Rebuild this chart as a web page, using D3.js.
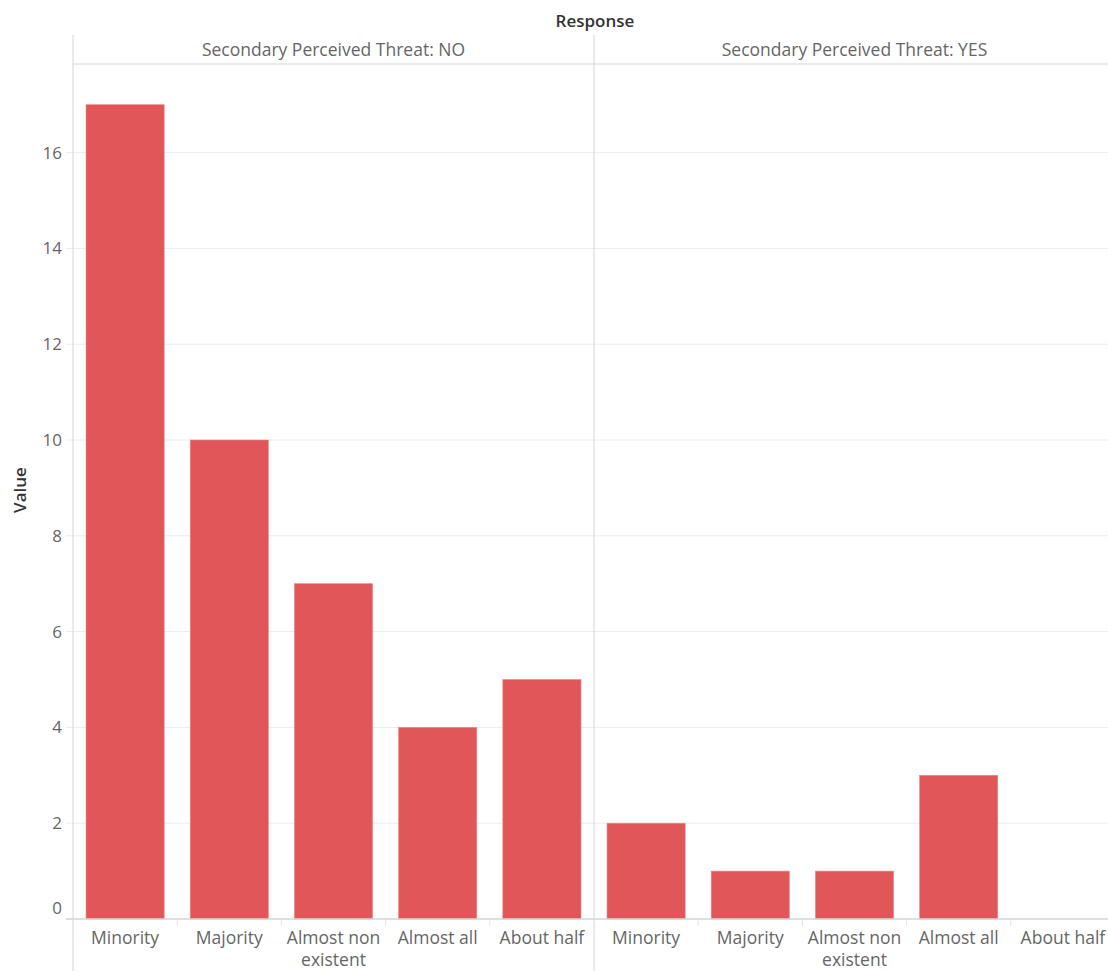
<!DOCTYPE html>
<html><head><meta charset="utf-8">
<script src="https://cdn.jsdelivr.net/npm/d3@7"></script>
<style>body{margin:0;background:#fff;} text{font-family:"Open Sans",Lato,sans-serif;}</style>
</head><body>
<svg id="c" width="1108" height="971"></svg>
<script>
const panels = ["Secondary Perceived Threat: NO", "Secondary Perceived Threat: YES"];
const categories = ["Minority", "Majority", "Almost non existent", "Almost all", "About half"];
const valuesNO = [17, 10, 7, 4, 5];
const valuesYES = [2, 1, 1, 3, 0];
const yTicks = [0, 2, 4, 6, 8, 10, 12, 14, 16];
const series = [valuesNO, valuesYES];

(function () {
const svg = d3.select("#c");
const pLeft = 73, pRight = 1115, pTop = 64, pBottom = 919, headTop = 35;
const y = d3.scaleLinear().domain([0, 17.85]).range([pBottom, pTop]);
const px = d3.scaleBand().domain(panels).range([pLeft, pRight]).paddingInner(0);
const gridC = "#ececec", lineC = "#d4d4d4", textC = "#666666";
const fs = 17, fsL = 17.5;

svg.append("g").selectAll("line").data(yTicks.filter(d => d > 0)).join("line")
  .attr("x1", pLeft).attr("x2", pRight).attr("y1", d => y(d)).attr("y2", d => y(d))
  .attr("stroke", gridC).attr("stroke-width", 1);

const ya = svg.append("g");
ya.selectAll("line").data(yTicks).join("line")
  .attr("x1", 66).attr("x2", pLeft).attr("y1", d => y(d)).attr("y2", d => y(d))
  .attr("stroke", gridC);
ya.selectAll("text").data(yTicks).join("text")
  .attr("x", 62).attr("y", d => d === 0 ? y(d) - 11 : y(d))
  .attr("dy", "0.35em").attr("text-anchor", "end")
  .attr("font-size", fs).attr("fill", textC).text(d => d);

panels.forEach((p, i) => {
  const x0 = px(p), w = px.bandwidth();
  const xs = d3.scaleBand().domain(categories).range([x0, x0 + w]).paddingInner(0.25).paddingOuter(0.125);
  const g = svg.append("g");
  g.selectAll("rect").data(categories.map((c, j) => ({c, v: series[i][j]}))).join("rect")
    .attr("x", d => xs(d.c)).attr("width", xs.bandwidth())
    .attr("y", d => y(d.v)).attr("height", d => pBottom - y(d.v))
    .attr("fill", "#E15759").attr("stroke", "#ea8587").attr("stroke-width", 0.6);
  const step = w / categories.length;
  g.selectAll("line.sep").data(d3.range(1, categories.length)).join("line")
    .attr("x1", k => x0 + k * step).attr("x2", k => x0 + k * step)
    .attr("y1", pBottom).attr("y2", pBottom + 7).attr("stroke", "#e6e6e6");
  categories.forEach(c => {
    const cx = xs(c) + xs.bandwidth() / 2;
    const t = g.append("text").attr("x", cx).attr("y", 944).attr("text-anchor", "middle")
      .attr("font-size", fsL).attr("fill", textC);
    if (c === "Almost non existent") {
      t.append("tspan").attr("x", cx).text("Almost non");
      t.append("tspan").attr("x", cx).attr("dy", 22).text("existent");
    } else t.text(c);
  });
  svg.append("text").attr("x", x0 + w / 2).attr("y", 50).attr("dy", "0.35em")
    .attr("text-anchor", "middle").attr("font-size", fsL).attr("fill", textC).text(p);
});

svg.append("line").attr("x1", pLeft).attr("x2", pRight).attr("y1", pTop).attr("y2", pTop).attr("stroke", lineC);
svg.append("line").attr("x1", pLeft).attr("x2", pLeft).attr("y1", headTop).attr("y2", 971).attr("stroke", lineC);
svg.append("line").attr("x1", px(panels[1])).attr("x2", px(panels[1])).attr("y1", headTop).attr("y2", 971).attr("stroke", lineC);
svg.append("line").attr("x1", 66).attr("x2", pRight).attr("y1", pBottom).attr("y2", pBottom).attr("stroke", lineC).attr("stroke-width", 1.5);

svg.append("text").attr("x", 595).attr("y", 21).attr("dy", "0.35em").attr("text-anchor", "middle")
  .attr("font-size", fs).attr("font-weight", 600).attr("fill", "#333").text("Response");
svg.append("text").attr("transform", "translate(20,490) rotate(-90)").attr("dy", "0.35em")
  .attr("text-anchor", "middle").attr("font-size", fs).attr("font-weight", 600).attr("fill", "#333").text("Value");
})();
</script>
</body></html>
